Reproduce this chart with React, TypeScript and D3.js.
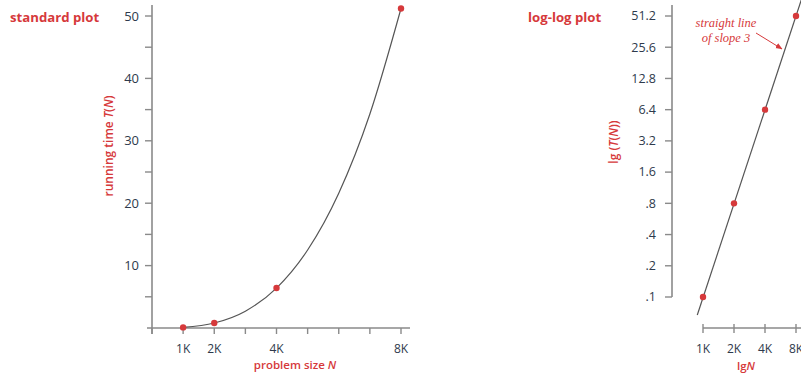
import React from "react";
import * as d3 from "d3";

// ---------- data ----------
const sizesK = [1, 2, 4, 8];
const times = [0.1, 0.8, 6.4, 51.2];
// curve (standard plot)
const curveN = [1, 2, 3, 4, 5, 6, 7, 8];
const curveT = [0.1, 0.8, 2.7, 6.4, 12.5, 21.6, 34.3, 51.2];
// straight line on log-log plot (read endpoints)
const lineN = [0.88, 9];
const lineT = [0.067, 73];

const leftYTicks = [10, 20, 30, 40, 50];
const leftYMinor = [5, 15, 25, 35, 45];
const leftXTicks = [0, 1, 2, 3, 4, 5, 6, 7, 8];
const leftXLabels = [1, 2, 4, 8];
const logYTicks = [0.1, 0.2, 0.4, 0.8, 1.6, 3.2, 6.4, 12.8, 25.6, 51.2];
const logYLabels = [".1", ".2", ".4", ".8", "1.6", "3.2", "6.4", "12.8", "25.6", "51.2"];
const logXTicks = [1, 2, 4, 8];

const RED = "#d6393b";
const INK = "#2e3a4c";
const AXIS = "#8a8a8a";
const FONT = "'Open Sans', 'Noto Sans', sans-serif";

export default function App() {
  // standard plot scales
  const x1 = d3.scaleLinear().domain([0, 8]).range([152, 401]);
  const y1 = d3.scaleLinear().domain([0, 50]).range([328, 16]);
  // log-log scales
  const x2 = d3.scaleLog().base(2).domain([1, 8]).range([703, 796]);
  const y2 = d3.scaleLog().base(2).domain([0.1, 51.2]).range([297, 16]);

  const curvePath = d3
    .line<number>()
    .x((d, i) => x1(curveN[i]))
    .y((d) => y1(d))
    .curve(d3.curveMonotoneX)(curveT) as string;

  const slopePath = d3
    .line<number>()
    .x((d, i) => x2(lineN[i]))
    .y((d) => y2(d))(lineT) as string;

  return (
    <svg
      width={801}
      height={379}
      style={{ position: "absolute", left: 0, top: 0, background: "#fff" }}
      fontFamily={FONT}
    >
      <defs>
        <marker id="arr" viewBox="0 0 10 10" refX="9" refY="5" markerWidth="7" markerHeight="7" orient="auto">
          <path d="M0,1 L10,5 L0,9 z" fill={RED} />
        </marker>
      </defs>

      {/* ---------- standard plot ---------- */}
      <text x={10} y={22} fill={RED} fontSize={13.2} fontWeight={700}>standard plot</text>

      {/* y axis */}
      <line x1={152} x2={152} y1={5} y2={334} stroke={AXIS} strokeWidth={1.6} />
      {leftYTicks.map((t) => (
        <g key={"ly" + t}>
          <line x1={145} x2={152} y1={y1(t)} y2={y1(t)} stroke={AXIS} strokeWidth={1.4} />
          <text x={139} y={y1(t)} dy="0.35em" textAnchor="end" fontSize={13} fill={INK}>{t}</text>
        </g>
      ))}
      {leftYMinor.map((t) => (
        <line key={"lym" + t} x1={145} x2={152} y1={y1(t)} y2={y1(t)} stroke={AXIS} strokeWidth={1.4} />
      ))}
      <text
        transform={`translate(113, 146) rotate(-90)`}
        textAnchor="middle"
        fontSize={12}
        fontWeight={600}
        fill={RED}
      >
        running time <tspan fontStyle="italic">T</tspan>(<tspan fontStyle="italic">N</tspan>)
      </text>

      {/* x axis */}
      <line x1={147} x2={410} y1={328} y2={328} stroke={AXIS} strokeWidth={1.6} />
      {leftXTicks.map((t) => (
        <line key={"lx" + t} x1={x1(t)} x2={x1(t)} y1={328} y2={334} stroke={AXIS} strokeWidth={1.4} />
      ))}
      {leftXLabels.map((t) => (
        <text key={"lxl" + t} x={x1(t)} y={353} textAnchor="middle" fontSize={12} fill={INK}>{t}K</text>
      ))}
      <text x={295} y={369} textAnchor="middle" fontSize={11.5} fontWeight={600} fill={RED}>
        problem size <tspan fontStyle="italic">N</tspan>
      </text>

      <path d={curvePath} fill="none" stroke="#555" strokeWidth={1.2} />
      {sizesK.map((n, i) => (
        <circle key={"lp" + n} cx={x1(n)} cy={y1(times[i])} r={3.2} fill={RED} />
      ))}

      {/* ---------- log-log plot ---------- */}
      <text x={528} y={22} fill={RED} fontSize={13.2} fontWeight={700}>log-log plot</text>

      <line x1={672} x2={672} y1={5} y2={297} stroke={AXIS} strokeWidth={1.6} />
      {logYTicks.map((t, i) => (
        <g key={"ry" + i}>
          <line x1={665} x2={672} y1={y2(t)} y2={y2(t)} stroke={AXIS} strokeWidth={1.4} />
          <text x={656} y={y2(t)} dy="0.35em" textAnchor="end" fontSize={12.5} fill={INK}>{logYLabels[i]}</text>
        </g>
      ))}
      <text
        transform={`translate(618, 142) rotate(-90)`}
        textAnchor="middle"
        fontSize={12}
        fontWeight={600}
        fill={RED}
      >
        lg (<tspan fontStyle="italic">T</tspan>(<tspan fontStyle="italic">N</tspan>))
      </text>

      <line x1={703} x2={801} y1={328} y2={328} stroke={AXIS} strokeWidth={1.6} />
      {logXTicks.map((t) => (
        <g key={"rx" + t}>
          <line x1={x2(t)} x2={x2(t)} y1={324} y2={333} stroke={AXIS} strokeWidth={1.4} />
          <text x={x2(t)} y={353} textAnchor="middle" fontSize={12} fill={INK}>{t}K</text>
        </g>
      ))}
      <text x={746} y={370} textAnchor="middle" fontSize={11.5} fontWeight={600} fill={RED}>
        lg<tspan fontStyle="italic">N</tspan>
      </text>

      <path d={slopePath} fill="none" stroke="#555" strokeWidth={1.2} />
      {sizesK.map((n, i) => (
        <circle key={"rp" + n} cx={x2(n)} cy={y2(times[i])} r={3.2} fill={RED} />
      ))}

      {/* annotation */}
      <text x={726} y={27} textAnchor="middle" fontSize={12.5} fontStyle="italic" fill={RED}
        fontFamily="'Liberation Serif', 'DejaVu Serif', serif">straight line</text>
      <text x={726} y={42} textAnchor="middle" fontSize={12.5} fontStyle="italic" fill={RED}
        fontFamily="'Liberation Serif', 'DejaVu Serif', serif">of slope 3</text>
      <line x1={756} y1={33} x2={782} y2={49} stroke={RED} strokeWidth={1} markerEnd="url(#arr)" />
    </svg>
  );
}
